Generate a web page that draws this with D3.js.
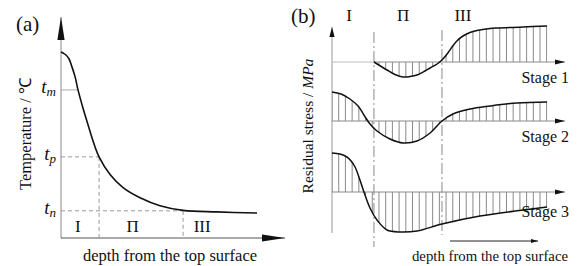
<!DOCTYPE html>
<html><head><meta charset="utf-8">
<script src="https://cdn.jsdelivr.net/npm/d3@7"></script>
<style>
html,body{margin:0;padding:0;background:#fff;}
text{font-family:"Liberation Serif","Times New Roman",serif;fill:#111;}
</style></head>
<body><svg id="c" width="579" height="266"></svg>
<script>
// ---------- data: panel (a) temperature vs depth ----------
const tempDepth = [0, 0.9, 2.2, 3.6, 4.9, 6.3, 7.6, 9.8, 12.1, 14.3, 17.0, 21.9, 27.7, 35.3, 44.2, 54.5, 69.6, 87.5];
const tempValue = [84.2, 83.7, 82.8, 81.0, 77.4, 72.9, 67.0, 58.8, 51.1, 43.9, 36.7, 28.7, 22.8, 18.2, 14.6, 12.5, 11.8, 11.3];
const tempTicks = [67.0, 36.7, 12.3];
const tempTickLabels = [["t","m"], ["t","p"], ["t","n"]];
const tmDepth = 7.6;
const zoneBoundsA = [17.0, 54.5];
const zoneLabels = ["I", "Π", "III"];
const zoneLabelDepthA = [7.5, 32, 63];

// ---------- data: panel (b) residual stress vs depth ----------
const stages = ["Stage 1", "Stage 2", "Stage 3"];
const stage1Depth = [18.0, 23.6, 27.0, 30.5, 33.5, 36.5, 39.9, 42.1, 45.1, 47.2, 49.4, 51.5, 53.6, 56.2, 59.2, 62.2, 67.8, 70.8, 82.0, 92.3];
const stage1Stress = [0, -8, -12.5, -15, -14.5, -13, -9, -6, -2, 2, 8, 15, 21, 26, 29.5, 31.5, 33.5, 34, 35, 36];
const stage2Depth = [0, 3.9, 7.7, 11.2, 13.7, 16.3, 19.3, 24.9, 30.5, 36.5, 42.1, 47.2, 51.9, 59.2, 67.8, 79.4, 92.3];
const stage2Stress = [29, 27, 22, 15, 6, -3, -10, -18, -22, -20, -12, 0, 7, 12, 15, 18, 19];
const stage3Depth = [0, 3.4, 6.4, 8.2, 9.9, 12.0, 13.7, 16.3, 19.3, 23.6, 29.2, 36.5, 47.2, 63.5, 82.0, 92.3];
const stage3Stress = [39, 38, 35, 31, 25, 12, 0, -16, -28, -38, -40, -39, -32, -24, -18, -15];
const zoneBoundsB = [18.0, 47.2];
const zoneLabelDepthB = [7.3, 30.5, 56.2];
const hatchStep = 2.88;

const svg = d3.select("#c");
const defs = svg.append("defs");
function marker(id, len, hw){
  defs.append("marker").attr("id", id).attr("markerUnits","userSpaceOnUse")
    .attr("viewBox", `0 ${-hw} ${len} ${2*hw}`).attr("refX", len).attr("refY", 0)
    .attr("markerWidth", len).attr("markerHeight", 2*hw).attr("orient","auto")
    .append("path").attr("d", `M0,${-hw}L${len},0L0,${hw}Z`).attr("fill","#111");
}
marker("bigArrow", 23, 3.6);
marker("smallArrow", 10, 2.6);
marker("tinyArrow", 7, 2);

const smooth = d3.curveCatmullRom.alpha(0.5);

// ================= Panel (a) =================
const xA = d3.scaleLinear().domain([0, 100]).range([61, 285]);
const yA = d3.scaleLinear().domain([0, 100]).range([238, 17]);
const gA = svg.append("g");

gA.append("line").attr("x1", xA(0)).attr("y1", yA(0)).attr("x2", xA(0)).attr("y2", yA(100))
  .attr("stroke","#888").attr("stroke-width",1).attr("marker-end","url(#bigArrow)");
gA.append("line").attr("x1", xA(0)).attr("y1", yA(0)).attr("x2", xA(100)).attr("y2", yA(0))
  .attr("stroke","#555").attr("stroke-width",1).attr("marker-end","url(#bigArrow)");

const tempPts = tempDepth.map((d,i)=>[d, tempValue[i]]);
const lineA = d3.line().x(d=>xA(d[0])).y(d=>yA(d[1])).curve(smooth);

gA.append("line").attr("x1", xA(0)).attr("x2", xA(tmDepth)).attr("y1", yA(tempTicks[0])).attr("y2", yA(tempTicks[0]))
  .attr("stroke","#aaa").attr("stroke-width",1);
gA.append("line").attr("x1", xA(0)).attr("x2", xA(zoneBoundsA[0])).attr("y1", yA(tempTicks[1])).attr("y2", yA(tempTicks[1]))
  .attr("stroke","#999").attr("stroke-width",1).attr("stroke-dasharray","4,3");
gA.append("line").attr("x1", xA(zoneBoundsA[0])).attr("x2", xA(zoneBoundsA[0])).attr("y1", yA(tempTicks[1])).attr("y2", yA(0))
  .attr("stroke","#999").attr("stroke-width",1).attr("stroke-dasharray","4,3");
gA.append("line").attr("x1", xA(0)).attr("x2", xA(zoneBoundsA[1])).attr("y1", yA(tempTicks[2])).attr("y2", yA(tempTicks[2]))
  .attr("stroke","#999").attr("stroke-width",1).attr("stroke-dasharray","4,3");
gA.append("line").attr("x1", xA(zoneBoundsA[1])).attr("x2", xA(zoneBoundsA[1])).attr("y1", yA(tempTicks[2])).attr("y2", yA(0))
  .attr("stroke","#999").attr("stroke-width",1).attr("stroke-dasharray","4,3");

gA.append("path").attr("d", lineA(tempPts)).attr("fill","none").attr("stroke","#111").attr("stroke-width",1.6);

const axA = d3.axisLeft(yA).tickValues(tempTicks).tickSize(0).tickPadding(5).tickFormat("");
const axG = gA.append("g").attr("transform", `translate(${xA(0)},0)`).call(axA);
axG.select(".domain").remove();
axG.selectAll(".tick text").each(function(d,i){
  const t = d3.select(this).attr("dy", null).attr("y", 3).attr("font-size", 19)
    .attr("font-style","italic").attr("text-anchor","end").attr("fill","#111")
    .style("font-family",'"Liberation Serif",serif');
  t.append("tspan").text(tempTickLabels[i][0]);
  t.append("tspan").attr("font-size", 13).attr("dy", 3).text(tempTickLabels[i][1]);
});

gA.selectAll(".zl").data(zoneLabels).join("text")
  .attr("x", (d,i)=>xA(zoneLabelDepthA[i])).attr("y", 232).attr("text-anchor","middle")
  .attr("font-size", 17).text(d=>d);

gA.append("text").attr("x", 170).attr("y", 261).attr("text-anchor","middle").attr("font-size", 16.5)
  .text("depth from the top surface");
gA.append("text").attr("transform", "translate(31,134) rotate(-90)").attr("text-anchor","middle")
  .attr("font-size", 16.5).text("Temperature / ℃");
gA.append("text").attr("x", 16).attr("y", 31).attr("font-size", 21).text("(a)");

// ================= Panel (b) =================
const xB = d3.scaleLinear().domain([0, 100]).range([332, 565]);
const stageY = d3.scaleOrdinal().domain(stages).range([62, 121, 192]);
const sY = d3.scaleLinear().domain([-40, 40]).range([40, -40]);
const gB = svg.append("g");

gB.append("line").attr("x1", xB(0)).attr("x2", xB(0)).attr("y1", 233).attr("y2", 27)
  .attr("stroke","#999").attr("stroke-width",1).attr("marker-end","url(#smallArrow)");

gB.append("line").attr("x1", xB(zoneBoundsB[0])).attr("x2", xB(zoneBoundsB[0])).attr("y1", 32).attr("y2", 247)
  .attr("stroke","#888").attr("stroke-width",1).attr("stroke-dasharray","11,3,2,3");
gB.append("line").attr("x1", xB(zoneBoundsB[1])).attr("x2", xB(zoneBoundsB[1])).attr("y1", 30).attr("y2", 235)
  .attr("stroke","#888").attr("stroke-width",1).attr("stroke-dasharray","11,3,2,3");

const stageData = [
  stage1Depth.map((d,i)=>[d, stage1Stress[i]]),
  stage2Depth.map((d,i)=>[d, stage2Stress[i]]),
  stage3Depth.map((d,i)=>[d, stage3Stress[i]])
];
const hatchX = d3.range(0, 92.3 + 0.01, hatchStep);
stages.forEach((s, si)=>{
  const pts = stageData[si];
  const base = stageY(s);
  const y = v => base + sY(v);
  const line = d3.line().x(d=>xB(d[0])).y(d=>y(d[1])).curve(smooth);
  const area = d3.area().x(d=>xB(d[0])).y0(base).y1(d=>y(d[1])).curve(smooth);
  const cid = "clip" + si;
  defs.append("clipPath").attr("id", cid).append("path").attr("d", area(pts));
  const d0 = pts[0][0], d1 = pts[pts.length-1][0];
  gB.append("g").attr("clip-path", `url(#${cid})`).selectAll("line")
    .data(hatchX.filter(h => h >= d0 - 0.01).concat([d1])).join("line")
    .attr("x1", d=>xB(d)).attr("x2", d=>xB(d)).attr("y1", base - 50).attr("y2", base + 50)
    .attr("stroke","#8a8a8a").attr("stroke-width",1);
  if (d0 > 0) {
    gB.append("line").attr("x1", xB(0)).attr("x2", xB(d0)).attr("y1", base).attr("y2", base)
      .attr("stroke", "#bbb").attr("stroke-width",1);
  }
  gB.append("line").attr("x1", xB(d0)).attr("x2", xB(100)).attr("y1", base).attr("y2", base)
    .attr("stroke", "#8a8a8a").attr("stroke-width",1).attr("marker-end","url(#smallArrow)");
  gB.append("path").attr("d", line(pts)).attr("fill","none").attr("stroke","#111").attr("stroke-width",1.5);
});

gB.selectAll(".sl").data(stages).join("text")
  .attr("x", 569).attr("y", (d,i)=>[83, 142, 217][i]).attr("text-anchor","end").attr("font-size", 16)
  .text(d=>d);

gB.selectAll(".zb").data(zoneLabels).join("text")
  .attr("x", (d,i)=>xB(zoneLabelDepthB[i])).attr("y", 21).attr("text-anchor","middle")
  .attr("font-size", 17).text(d=>d);

gB.append("line").attr("x1", 450).attr("x2", 538).attr("y1", 241).attr("y2", 241)
  .attr("stroke","#222").attr("stroke-width",1).attr("marker-end","url(#tinyArrow)");
gB.append("text").attr("x", 490).attr("y", 261).attr("text-anchor","middle").attr("font-size", 14.8)
  .text("depth from the top surface");
const yl = gB.append("text").attr("transform", "translate(313,126) rotate(-90)").attr("text-anchor","middle")
  .attr("font-size", 15.5);
yl.append("tspan").text("Residual stress / ");
yl.append("tspan").attr("font-style","italic").text("MPa");
gB.append("text").attr("x", 291).attr("y", 23).attr("font-size", 21).text("(b)");
</script></body></html>
